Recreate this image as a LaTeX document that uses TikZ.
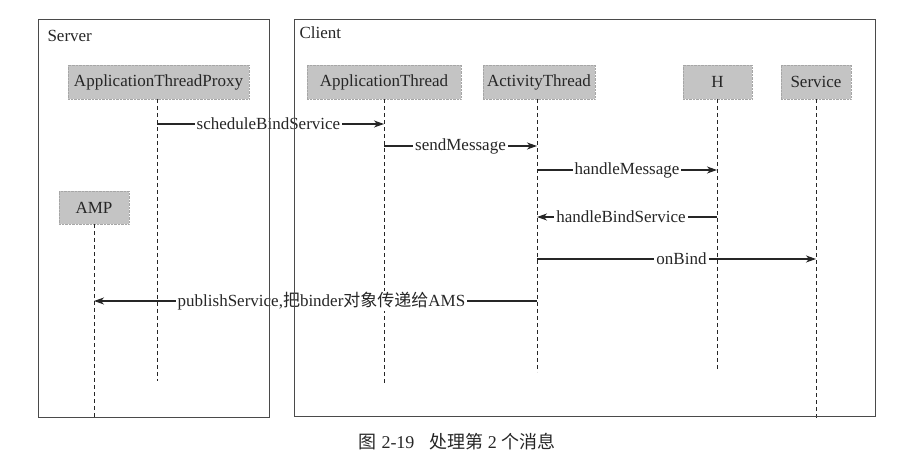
\documentclass[tikz,border=0pt]{standalone}
\usepackage{fontspec}
\setmainfont{Liberation Serif}
\newfontfamily\cjk{Noto Sans CJK SC}
\usetikzlibrary{arrows.meta}
\definecolor{ink}{HTML}{262626}
\definecolor{boxgray}{HTML}{C4C4C4}
\definecolor{framec}{HTML}{4A4A4A}
\tikzset{
  actor/.style={fill=boxgray, draw=gray!70, densely dotted, minimum height=34pt, inner sep=0pt, text=ink, font=\fontsize{17}{20}\selectfont},
  lifeline/.style={draw=ink, line width=0.8pt, dash pattern=on 4pt off 3pt},
  msg/.style={draw=ink, line width=1.1pt, -{Stealth[length=10pt,width=7pt,inset=3pt]}},
  lbl/.style={fill=white, inner xsep=2pt, inner ysep=1pt, text=ink, font=\fontsize{17}{20}\selectfont},
  frame/.style={draw=framec, line width=1pt},
  title/.style={anchor=west, text=ink, font=\fontsize{17}{20}\selectfont},
}
\begin{document}
\begin{tikzpicture}[x=1pt,y=-1pt]
\useasboundingbox (0,0) rectangle (922,470);
% actors
\node[actor, minimum width=181pt] (atp) at (158.5,82) {ApplicationThreadProxy};
\node[actor, minimum width=70pt, minimum height=33pt] (amp) at (94,207.5) {AMP};
\node[actor, minimum width=154pt] (apt) at (384,82) {ApplicationThread};
\node[actor, minimum width=112pt] (act) at (539,82) {ActivityThread};
\node[actor, minimum width=69pt] (h) at (717.5,82) {H};
\node[actor, minimum width=70pt] (svc) at (816,82) {Service};
% lifeline ends
\coordinate (atpE) at (157,381);
\coordinate (ampE) at (94,420);
\coordinate (aptE) at (384,383);
\coordinate (actE) at (537,372);
\coordinate (hE) at (717,370);
\coordinate (svcE) at (816,418);
\draw[lifeline] (157,99) -- (atpE);
\draw[lifeline] (amp.south) -- (ampE);
\draw[lifeline] (apt.south) -- (aptE);
\draw[lifeline] (537,99) -- (actE);
\draw[lifeline] (717,99) -- (hE);
\draw[lifeline] (svc.south) -- (svcE);
% message points
\coordinate (m1a) at (157,124); \coordinate (m1b) at (384,124);
\coordinate (m2a) at (384,146); \coordinate (m2b) at (537,146);
\coordinate (m3a) at (537,170); \coordinate (m3b) at (717,170);
\coordinate (m4a) at (717,217); \coordinate (m4b) at (537,217);
\coordinate (m5a) at (537,259); \coordinate (m5b) at (816,259);
\coordinate (m6a) at (537,301); \coordinate (m6b) at (94,301);
\draw[msg] (m1a) -- node[lbl, xshift=-2pt] {scheduleBindService} (m1b);
\draw[msg] (m2a) -- node[lbl] {sendMessage} (m2b);
\draw[msg] (m3a) -- node[lbl] {handleMessage} (m3b);
\draw[msg] (m4a) -- node[lbl, xshift=-6pt] {handleBindService} (m4b);
\draw[msg] (m5a) -- node[lbl, xshift=5pt] {onBind} (m5b);
\draw[msg] (m6a) -- node[lbl, xshift=6pt] {publishService,{\cjk 把}binder{\cjk 对象传递给}AMS} (m6b);
% frames
\draw[frame] (38,20) rectangle (269,418);
\draw[frame] (294,20) rectangle (875,417);
\node[title] (srv) at (44,36) {Server};
\node[title] (cli) at (296,33) {Client};
% caption
\node[text=ink, font=\fontsize{18}{21}\selectfont] (cap) at (457,442) {{\cjk 图}\hspace{5pt}2-19\hspace{15pt}{\cjk 处理第} 2 {\cjk 个消息}};
\end{tikzpicture}
\end{document}
